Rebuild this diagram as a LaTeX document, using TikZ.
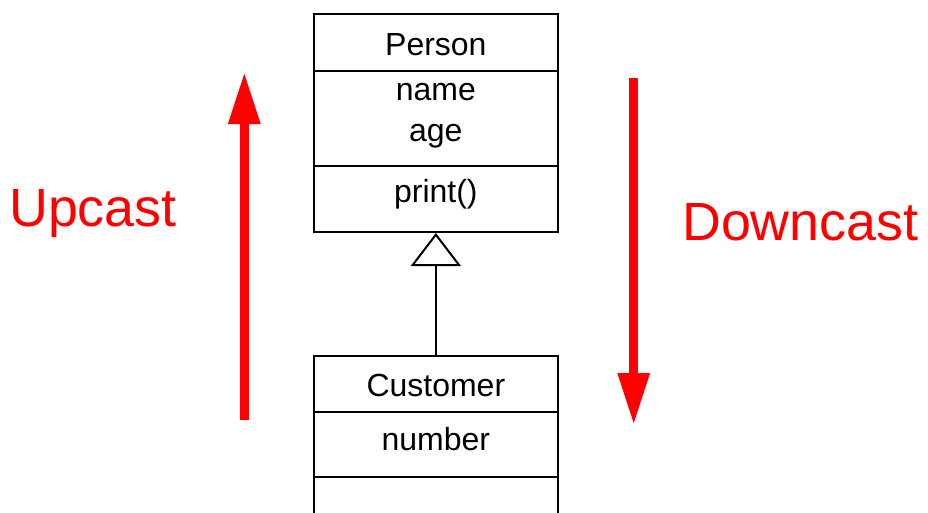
\documentclass[tikz,border=0pt]{standalone}
\usepackage{fontspec}
\setmainfont{Liberation Sans}
\usetikzlibrary{arrows.meta}
\begin{document}
\begin{tikzpicture}[x=1pt,y=-1pt,
  classbox/.style={draw, line width=2pt, inner sep=0pt, minimum width=243.7pt},
  lbl/.style={anchor=base, inner sep=0pt, font=\fontsize{32}{38}\selectfont},
  casttext/.style={anchor=base west, inner sep=0pt, text=red, font=\fontsize{53.8}{64}\selectfont},
  castarrow/.style={draw=red, line width=9pt, -{Triangle[length=52pt,width=30pt]}},
  divider/.style={line width=2pt},
  inherit/.style={line width=2pt, -{Triangle[open,length=33pt,width=50pt]}}]
\useasboundingbox (0,0) rectangle (928,512);
% classes
\node[classbox, minimum height=218pt] (person) at (435.85,123) {};
\node[classbox, minimum height=184pt] (customer) at (435.85,448) {};
% compartments
\draw[divider] (person.west |- {(0,71)}) -- (person.east |- {(0,71)});
\draw[divider] (person.west |- {(0,165.7)}) -- (person.east |- {(0,165.7)});
\draw[divider] (customer.west |- {(0,412.3)}) -- (customer.east |- {(0,412.3)});
\draw[divider] (customer.west |- {(0,477.3)}) -- (customer.east |- {(0,477.3)});
% labels
\node[lbl] (pname) at (435.85,55.7) {Person};
\node[lbl] (pattr1) at (435.85,100.5) {name};
\node[lbl] (pattr2) at (435.85,141.7) {age};
\node[lbl] (pop) at (435.85,202) {print()};
\node[lbl] (cname) at (435.85,396.7) {Customer};
\node[lbl] (cattr) at (435.85,450) {number};
% inheritance
\draw[inherit] (customer.north) -- (person.south);
% casts
\coordinate (upS) at (244.3,420);
\coordinate (upE) at (244.3,72);
\coordinate (dnS) at (633.7,77.7);
\coordinate (dnE) at (633.7,425);
\draw[castarrow] (upS) -- (upE);
\draw[castarrow] (dnS) -- (dnE);
\node[casttext] (up) at (9,226.7) {Upcast};
\node[casttext] (down) at (682,240.7) {Downcast};
\end{tikzpicture}
\end{document}
